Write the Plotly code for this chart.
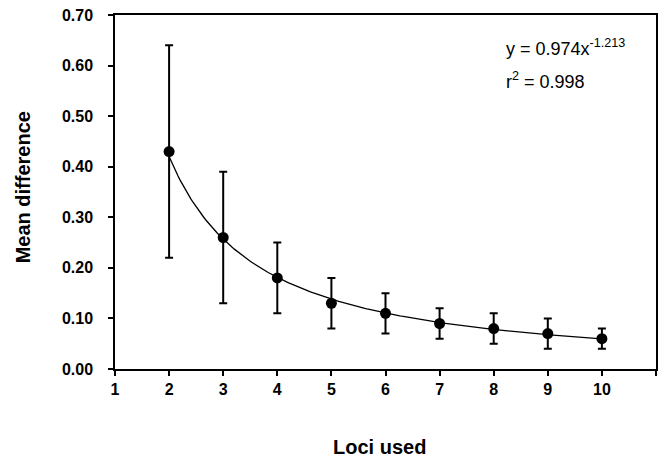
import numpy as np
import plotly.graph_objects as go

loci = [2, 3, 4, 5, 6, 7, 8, 9, 10]
mean_diff = [0.43, 0.26, 0.18, 0.13, 0.11, 0.09, 0.08, 0.07, 0.06]
upper = [0.64, 0.39, 0.25, 0.18, 0.15, 0.12, 0.11, 0.10, 0.08]
lower = [0.22, 0.13, 0.11, 0.08, 0.07, 0.06, 0.05, 0.04, 0.04]
fit_a = 0.974
fit_b = -1.213
x_ticks = [1, 2, 3, 4, 5, 6, 7, 8, 9, 10, 11]
x_tick_text = ["1", "2", "3", "4", "5", "6", "7", "8", "9", "10", ""]
y_ticks = [0.0, 0.1, 0.2, 0.3, 0.4, 0.5, 0.6, 0.7]
y_tick_text = ["0.00", "0.10", "0.20", "0.30", "0.40", "0.50", "0.60", "0.70"]

err_plus = [u - m for u, m in zip(upper, mean_diff)]
err_minus = [m - l for m, l in zip(mean_diff, lower)]

xf = np.linspace(2, 10, 200)
yf = fit_a * xf ** fit_b

FAM = "Arial, Liberation Sans, sans-serif"

fig = go.Figure()
fig.add_trace(go.Scatter(x=xf, y=yf, mode="lines",
                         line=dict(color="black", width=1.3),
                         hoverinfo="skip", showlegend=False))
fig.add_trace(go.Scatter(
    x=loci, y=mean_diff, mode="markers",
    marker=dict(color="black", size=11),
    error_y=dict(type="data", symmetric=False, array=err_plus,
                 arrayminus=err_minus, color="black", thickness=2, width=4),
    showlegend=False))

tickfont = dict(family=FAM, size=16, color="black")

fig.update_layout(
    width=662, height=458,
    margin=dict(l=115, r=4, t=15, b=89),
    plot_bgcolor="white", paper_bgcolor="white",
    font=dict(family=FAM, color="black", size=16),
    xaxis=dict(range=[1, 11], tickmode="array", tickvals=x_ticks,
               ticktext=["<b>%s</b>" % t if t else "" for t in x_tick_text],
               ticks="outside", ticklen=5, tickwidth=1.5, tickcolor="black",
               showline=True, linecolor="black", linewidth=1.5, mirror=True,
               showgrid=False, zeroline=False, tickfont=tickfont),
    yaxis=dict(range=[0, 0.7], tickmode="array", tickvals=y_ticks,
               ticktext=["<b>%s</b>" % t for t in y_tick_text],
               ticks="outside", ticklen=5, tickwidth=1.5, tickcolor="black",
               showline=True, linecolor="black", linewidth=1.5, mirror=True,
               showgrid=False, zeroline=False, ticklabelstandoff=12,
               tickfont=tickfont),
    annotations=[
        dict(text="y = 0.974x<sup>-1.213</sup>", xref="paper", yref="paper",
             x=(505 - 115) / 543, y=1 - (48 - 15) / 354, xanchor="left", yanchor="middle",
             showarrow=False, font=dict(family=FAM, size=18, color="black")),
        dict(text="r<sup>2</sup> = 0.998", xref="paper", yref="paper",
             x=(505 - 115) / 543, y=1 - (81 - 15) / 354, xanchor="left", yanchor="middle",
             showarrow=False, font=dict(family=FAM, size=18, color="black")),
        dict(text="<b>Loci used</b>", xref="paper", yref="paper",
             x=(380 - 115) / 543, y=1 - (447 - 15) / 354, xanchor="center", yanchor="middle",
             showarrow=False, font=dict(family=FAM, size=20, color="black")),
        dict(text="<b>Mean difference</b>", xref="paper", yref="paper", textangle=-90,
             x=(23 - 115) / 543, y=1 - (187 - 15) / 354, xanchor="center", yanchor="middle",
             showarrow=False, font=dict(family=FAM, size=20, color="black")),
    ],
)

fig.write_html("out.html")
